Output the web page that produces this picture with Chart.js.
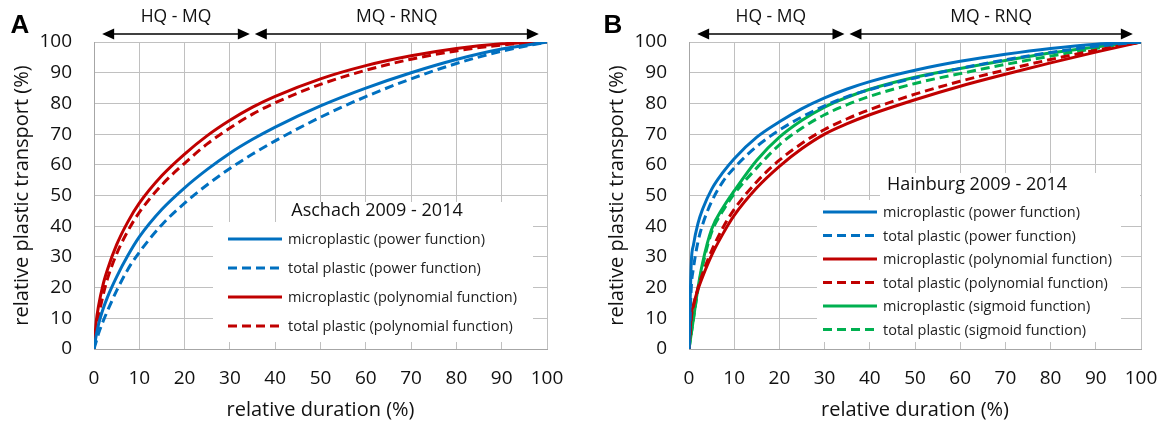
<!DOCTYPE html>
<html>
<head>
<meta charset="utf-8">
<script src="https://cdn.jsdelivr.net/npm/chart.js@4.4.0/dist/chart.umd.min.js"></script>
<style>
  html, body { margin: 0; padding: 0; background: #fff; }
  #wrap { position: relative; width: 1166px; height: 425px; }
  .panel { position: absolute; top: 0; width: 583px; height: 425px; }
</style>
</head>
<body>
<div id="wrap">
  <div class="panel" style="left:0"><canvas id="chartA" width="583" height="425"></canvas></div>
  <div class="panel" style="left:583px"><canvas id="chartB" width="583" height="425"></canvas></div>
</div>
<script>
const duration = [0, 0.5, 1, 2, 3, 5, 7.5, 10, 15, 20, 25, 30, 35, 40, 50, 60, 70, 80, 90, 100];

// Aschach 2009 - 2014
const aschachMicroPower = [0, 4.5, 8, 13, 17, 23.5, 30.5, 36.5, 45.5, 52.5, 58.5, 63.8, 68.3, 72.3, 79.2, 85, 90, 94.3, 97.7, 100];
const aschachTotalPower = [0, 2.5, 5, 9, 12.5, 19, 26, 31.5, 40.5, 47.5, 53.5, 58.8, 63.5, 67.8, 75.5, 82.2, 88, 93, 97, 100];
const aschachMicroPoly  = [0, 9, 14, 21, 26, 34, 41.5, 47.5, 56.5, 63.5, 69.5, 74.5, 78.8, 82.3, 88, 92.3, 95.5, 97.9, 99.4, 100];
const aschachTotalPoly  = [0, 6, 10.5, 17.5, 23, 31, 38.5, 44.5, 53.5, 60.5, 66.8, 72, 76.5, 80.2, 86.2, 90.8, 94.4, 97.1, 99, 100];

// Hainburg 2009 - 2014
const hainburgMicroPower = [0, 28, 34, 41, 45.5, 52, 57.5, 62, 69, 74, 78.3, 81.8, 84.7, 87.1, 90.8, 93.7, 96, 97.9, 99.3, 100];
const hainburgTotalPower = [0, 20, 26.5, 35, 40.5, 48, 54.5, 59, 66, 71.3, 75.6, 79.2, 82.2, 84.5, 88.3, 91.4, 94.2, 96.6, 98.6, 100];
const hainburgMicroPoly  = [0, 11, 14.5, 19.5, 23.5, 30.5, 37.5, 43.5, 52.5, 59.5, 65.3, 70, 73.4, 76.3, 81.2, 85.6, 89.5, 93.2, 96.7, 100];
const hainburgTotalPoly  = [0, 10, 14, 20, 24.5, 32, 39.5, 45.5, 54.5, 61.5, 67, 71.5, 75, 78, 83, 87.2, 90.9, 94.3, 97.3, 100];
const hainburgMicroSig   = [0, 5, 10, 20, 28, 39, 46, 51.5, 61.5, 69, 74.5, 78.8, 82, 84.6, 88.5, 91.4, 94, 96.4, 98.4, 100];
const hainburgTotalSig   = [0, 5, 10, 19.5, 27, 38, 45, 50.5, 59, 66.5, 72, 76.3, 79.6, 82.3, 86.5, 89.7, 92.7, 95.4, 97.9, 100];

const seriesLabels = [
  'microplastic (power function)',
  'total plastic (power function)',
  'microplastic (polynomial function)',
  'total plastic (polynomial function)',
  'microplastic (sigmoid function)',
  'total plastic (sigmoid function)'
];

// discharge ranges above the plot
const rangeLabels = ['HQ - MQ', 'MQ - RNQ'];
const rangeStart = [1.8, 35.5];
const rangeEnd = [34.4, 98.2];

const BLUE = '#0070c0';
const RED = '#c00000';
const GREEN = '#00b050';
const DASH = [9, 5];
const FONT = "'Open Sans', 'Noto Sans', sans-serif";
const TEXT = '#111';

function pts(values) {
  return values.map((v, i) => ({ x: duration[i], y: v }));
}

function line(label, values, color, dashed) {
  return {
    label: label,
    data: pts(values),
    borderColor: color,
    backgroundColor: color,
    borderWidth: 3,
    borderDash: dashed ? DASH : [],
    pointRadius: 0,
    fill: false,
    cubicInterpolationMode: 'monotone'
  };
}

// panel letter, range arrows, boxed title and legend
const decor = {
  id: 'decor',
  beforeDatasetsDraw(chart, args, o) {
    const c = chart.ctx;
    c.save();
    c.fillStyle = '#fff';
    c.fillRect(o.titleBox[0], o.titleBox[1], o.titleBox[2], o.titleBox[3]);
    c.fillRect(o.legendBox[0], o.legendBox[1], o.legendBox[2], o.legendBox[3]);
    c.restore();
  },
  afterDatasetsDraw(chart, args, o) {
    const c = chart.ctx;
    const xs = chart.scales.x;
    c.save();

    // letter
    c.fillStyle = '#000';
    c.font = "bold 26px 'Liberation Sans', Arial, sans-serif";
    c.textAlign = 'center';
    c.textBaseline = 'alphabetic';
    c.fillText(o.letter, o.letterX, 33);

    // arrows
    c.strokeStyle = '#000';
    c.lineWidth = 1.5;
    c.font = '17.5px ' + FONT;
    c.textBaseline = 'middle';
    for (let i = 0; i < rangeLabels.length; i++) {
      const x0 = xs.getPixelForValue(rangeStart[i]);
      const x1 = xs.getPixelForValue(rangeEnd[i]);
      const y = 34;
      c.beginPath();
      c.moveTo(x0 + 6, y);
      c.lineTo(x1 - 6, y);
      c.stroke();
      c.fillStyle = '#000';
      c.beginPath();
      c.moveTo(x0, y); c.lineTo(x0 + 12, y - 5.5); c.lineTo(x0 + 12, y + 5.5); c.closePath();
      c.moveTo(x1, y); c.lineTo(x1 - 12, y - 5.5); c.lineTo(x1 - 12, y + 5.5); c.closePath();
      c.fill();
      c.fillStyle = TEXT;
      c.fillText(rangeLabels[i], (x0 + x1) / 2, 17);
    }

    // legend title
    c.fillStyle = TEXT;
    c.font = '18px ' + FONT;
    c.textAlign = 'center';
    c.fillText(o.title, o.titleX, o.titleY);

    // legend rows
    c.font = '14.5px ' + FONT;
    c.textAlign = 'left';
    chart.data.datasets.forEach((ds, i) => {
      const y = o.rowY + i * o.rowGap;
      c.strokeStyle = ds.borderColor;
      c.lineWidth = 3;
      c.setLineDash(ds.borderDash);
      c.beginPath();
      c.moveTo(o.sampleX, y);
      c.lineTo(o.sampleX + o.sampleLen, y);
      c.stroke();
      c.setLineDash([]);
      c.fillStyle = '#222';
      c.fillText(ds.label, o.sampleX + o.sampleLen + 6, y + 1);
    });
    c.restore();
  }
};

function makeChart(id, datasets, leftWidth, rightPad, yTitlePad, decorOpts) {
  return new Chart(document.getElementById(id), {
    type: 'line',
    data: { datasets: datasets },
    plugins: [decor],
    options: {
      responsive: false,
      animation: false,
      layout: { padding: { top: 42, right: rightPad, left: 0, bottom: 0 } },
      plugins: {
        legend: { display: false },
        tooltip: { enabled: false },
        decor: decorOpts
      },
      scales: {
        x: {
          type: 'linear',
          min: 0, max: 100,
          afterFit: s => { s.height = 76; },
          ticks: { stepSize: 10, padding: 2, color: TEXT, font: { family: FONT, size: 19 } },
          grid: { color: '#c0c0c0', lineWidth: 1, drawTicks: true, tickLength: 16, tickColor: 'rgba(0,0,0,0)' },
          border: { color: '#a6a6a6' },
          title: { display: true, text: 'relative duration (%)', color: TEXT,
                   font: { family: FONT, size: 20 }, padding: { top: 0, bottom: 3 } }
        },
        y: {
          min: 0, max: 100,
          afterFit: s => { s.width = leftWidth; },
          ticks: { stepSize: 10, padding: 22, color: TEXT, font: { family: FONT, size: 19 } },
          grid: { color: '#c0c0c0', lineWidth: 1, drawTicks: false },
          border: { color: '#a6a6a6' },
          title: { display: true, text: 'relative plastic transport (%)', color: TEXT,
                   font: { family: FONT, size: 20 }, padding: { top: yTitlePad, bottom: 0 } }
        }
      }
    }
  });
}

makeChart('chartA', [
  line(seriesLabels[0], aschachMicroPower, BLUE, false),
  line(seriesLabels[1], aschachTotalPower, BLUE, true),
  line(seriesLabels[2], aschachMicroPoly, RED, false),
  line(seriesLabels[3], aschachTotalPoly, RED, true)
], 94, 36, 10, {
  letter: 'A', letterX: 20,
  title: 'Aschach 2009 - 2014', titleX: 377, titleY: 211,
  titleBox: [285, 202, 261, 20],
  legendBox: [213, 222, 320, 120],
  sampleX: 228, sampleLen: 54, rowY: 239, rowGap: 29
});

makeChart('chartB', [
  line(seriesLabels[0], hainburgMicroPower, BLUE, false),
  line(seriesLabels[1], hainburgTotalPower, BLUE, true),
  line(seriesLabels[2], hainburgMicroPoly, RED, false),
  line(seriesLabels[3], hainburgTotalPoly, RED, true),
  line(seriesLabels[4], hainburgMicroSig, GREEN, false),
  line(seriesLabels[5], hainburgTotalSig, GREEN, true)
], 106, 25, 22, {
  letter: 'B', letterX: 30,
  title: 'Hainburg 2009 - 2014', titleX: 394, titleY: 185,
  titleBox: [297, 173, 260, 27],
  legendBox: [234, 200, 304, 142],
  sampleX: 240, sampleLen: 54, rowY: 212, rowGap: 23.5
});
</script>
</body>
</html>
